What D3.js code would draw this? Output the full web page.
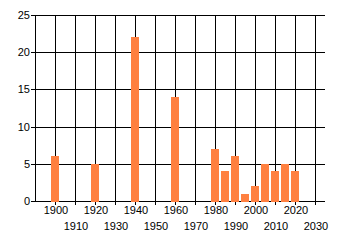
<!DOCTYPE html>
<html>
<head>
<meta charset="utf-8">
<script src="https://cdn.jsdelivr.net/npm/d3@7"></script>
<style>
  body { margin: 0; background: #fff; }
  svg text { font-family: "Liberation Sans", Arial, sans-serif; font-size: 11px; fill: #000; }
</style>
</head>
<body>
<svg width="340" height="245"></svg>
<script>
// data
var years  = [1900, 1920, 1940, 1960, 1980, 1985, 1990, 1995, 2000, 2005, 2010, 2015, 2020];
var values = [6, 5, 22, 14, 7, 4, 6, 1, 2, 5, 4, 5, 4];
var xTicks = [1900, 1910, 1920, 1930, 1940, 1950, 1960, 1970, 1980, 1990, 2000, 2010, 2020, 2030];
var yTicks = [0, 5, 10, 15, 20, 25];

var svg = d3.select("svg");
var plotLeft = 35, plotRight = 325, plotTop = 15, plotBottom = 201;

var x = d3.scaleLinear().domain([1890, 2035]).range([plotLeft, plotRight]);
var y = d3.scaleLinear().domain([0, 25]).range([plotBottom, plotTop]);

var grid = svg.append("g").attr("stroke", "#000").attr("stroke-width", 1).attr("shape-rendering", "crispEdges");

// horizontal lines
grid.selectAll(".h")
    .data(yTicks)
    .enter().append("line")
    .attr("x1", plotLeft - 4).attr("x2", plotRight)
    .attr("y1", function (d) { return Math.round(y(d)) + 0.5; })
    .attr("y2", function (d) { return Math.round(y(d)) + 0.5; });

// vertical lines
grid.selectAll(".v")
    .data(xTicks)
    .enter().append("line")
    .attr("x1", function (d) { return Math.round(x(d)) + 0.5; })
    .attr("x2", function (d) { return Math.round(x(d)) + 0.5; })
    .attr("y1", plotTop)
    .attr("y2", plotBottom + 4);

// left axis line
grid.append("line")
    .attr("x1", plotLeft + 0.5).attr("x2", plotLeft + 0.5)
    .attr("y1", plotTop).attr("y2", plotBottom + 1);

// bars
svg.append("g").selectAll("rect")
    .data(years)
    .enter().append("rect")
    .attr("x", function (d) { return Math.round(x(d)) - 4; })
    .attr("width", 8)
    .attr("y", function (d, i) { return Math.round(y(values[i])); })
    .attr("height", function (d, i) { return Math.round(y(0)) - Math.round(y(values[i])) + 1; })
    .attr("fill", "#ff8040")
    .attr("shape-rendering", "crispEdges");

// y labels
svg.append("g").selectAll("text")
    .data(yTicks)
    .enter().append("text")
    .attr("x", plotLeft - 5)
    .attr("y", function (d) { return y(d) + 4; })
    .attr("text-anchor", "end")
    .text(function (d) { return d; });

// x labels, two staggered rows
svg.append("g").selectAll("text")
    .data(xTicks)
    .enter().append("text")
    .attr("x", function (d) { return x(d) + 1; })
    .attr("y", function (d, i) { return i % 2 == 0 ? 214 : 230; })
    .attr("text-anchor", "middle")
    .text(function (d) { return d; });
</script>
</body>
</html>
